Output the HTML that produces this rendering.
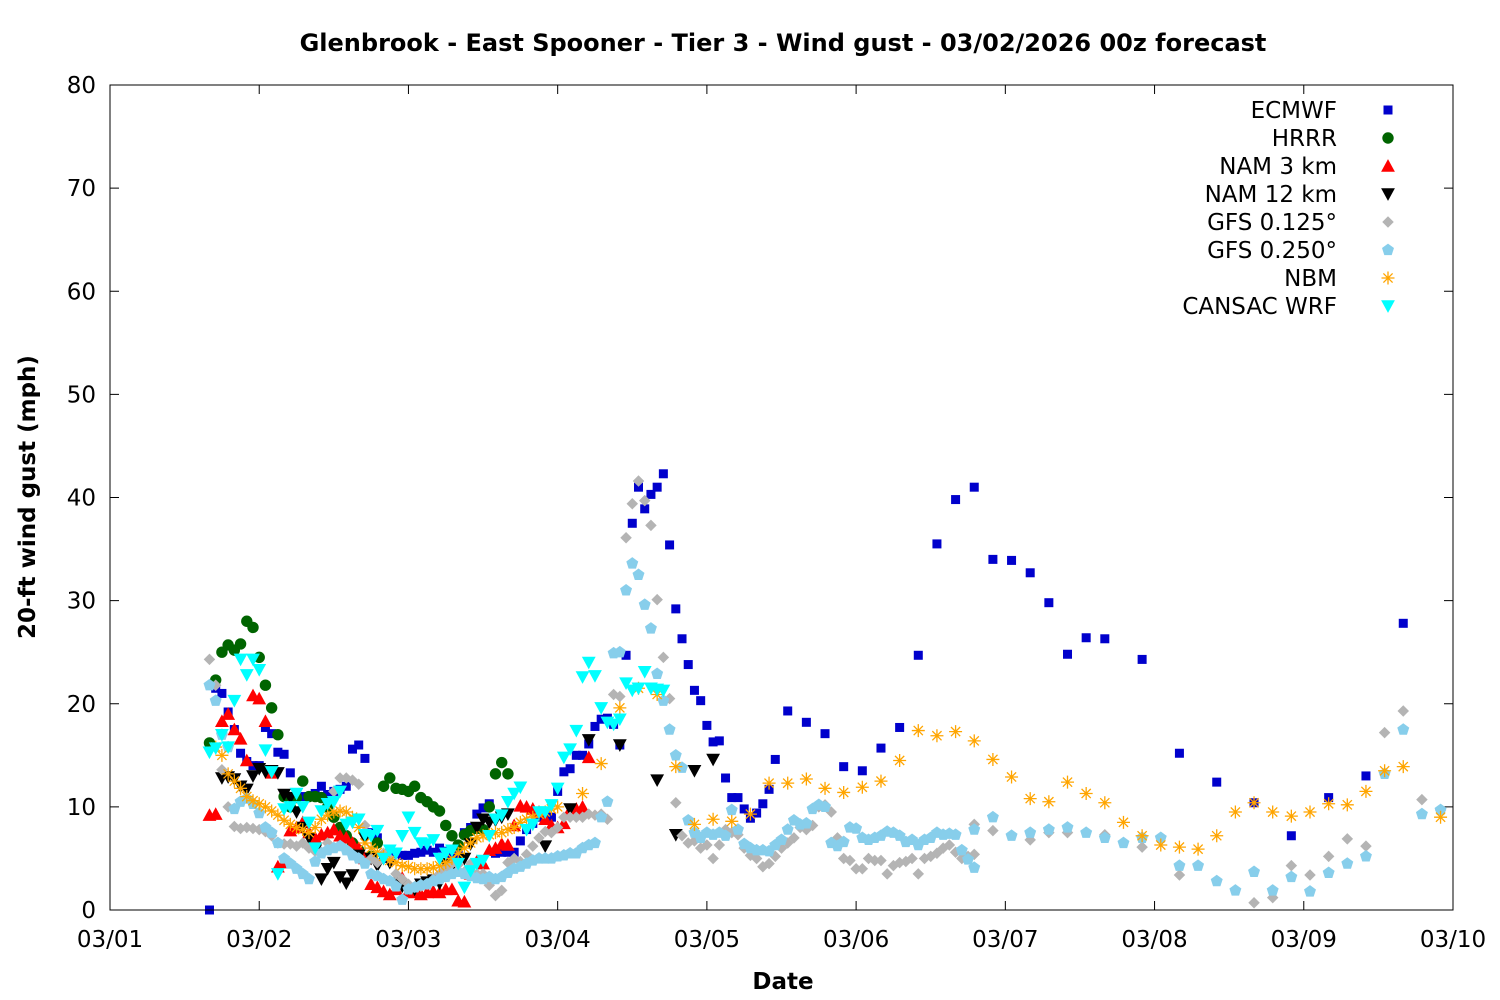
<!DOCTYPE html>
<html><head><meta charset="utf-8"><style>
html,body{margin:0;padding:0;background:#fff}
svg{display:block;font-family:"DejaVu Sans","Liberation Sans",sans-serif}
</style></head><body>
<svg id="chart" width="1500" height="1000" viewBox="0 0 1500 1000" xmlns="http://www.w3.org/2000/svg">
<rect x="0" y="0" width="1500" height="1000" fill="#fff"/>
<text x="783" y="51" text-anchor="middle" font-size="24" font-weight="bold">Glenbrook - East Spooner - Tier 3 - Wind gust - 03/02/2026 00z forecast</text>
<g id="ticks"></g>
<g id="marks"></g>
<rect x="110" y="85" width="1343" height="825" fill="none" stroke="#000" stroke-width="1"/>
<text x="783" y="989" text-anchor="middle" font-size="23" font-weight="bold">Date</text>
<text transform="translate(35,497) rotate(-90)" text-anchor="middle" font-size="23" font-weight="bold">20-ft wind gust (mph)</text>
<g id="legend"></g>
</svg>
<script>
const xTickLabels = ["03/01","03/02","03/03","03/04","03/05","03/06","03/07","03/08","03/09","03/10"];
const yTicks = [0,10,20,30,40,50,60,70,80];
const seriesNames = ["ECMWF","HRRR","NAM 3 km","NAM 12 km","GFS 0.125°","GFS 0.250°","NBM","CANSAC WRF"];

const ecmwfStart = 16;
const ecmwfHourly = [0,21.5,21,19.2,17.5,15.2,14.4,14,14,17.7,17.1,15.3,15.1,13.3,11,11,11,11.3,12,11.2,11.5,11.7,12,15.6,16,14.7,7.5,7,5,5.5,5.5,5.3,5.3,5.5,5.6,5.8,5.6,6,5.7,5.3,5.3,7.5,8,9.3,9.9,10.3,5.5,5.6,5.6,5.6,6.7,7.8,8.4,9,9.2,9,11.5,13.4,13.7,15,15,16.1,17.8,18.5,18.6,18,16,24.7,37.5,41,38.9,40.3,41,42.3,35.4,29.2,26.3,23.8,21.3,20.3,17.9,16.3,16.4,12.8,10.9,10.9,9.8,8.9,9.4,10.3,11.7,14.6];
const ecmwfLater = [[109,19.3],[112,18.2],[115,17.1],[118,13.9],[121,13.5],[124,15.7],[127,17.7],[130,24.7],[133,35.5],[136,39.8],[139,41],[142,34],[145,33.9],[148,32.7],[151,29.8],[154,24.8],[157,26.4],[160,26.3],[166,24.3],[172,15.2],[178,12.4],[184,10.4],[190,7.2],[196,10.9],[202,13],[208,27.8]];

const hrrrStart = 16;
const hrrrHourly = [16.2,22.3,25,25.7,25.2,25.8,28,27.4,24.5,21.8,19.6,17,11,10,10.9,12.5,11,11,10.9,10,9,8,7.2,6.5,5.8,5,5.2,6.5,12,12.8,11.8,11.7,11.5,12,10.9,10.5,10,9.6,8.2,7.2,6.3,7.3,7.7,7.9,7.8,10,13.2,14.3,13.2];

const nam3Start = 16;
const nam3Hourly = [9.2,9.3,18.3,19,17.5,16.6,14.5,20.8,20.5,18.3,13.3,4.2,4.6,7.7,8,8.5,7.5,7,7.3,7.5,7.8,7.2,7,6.5,6,5,2.5,2.2,1.8,1.5,2,3.1,1.8,1.7,1.5,1.7,1.8,1.7,2,2,0.9,0.8,3.5,4.7,4.5,5.8,6,6.4,6.3,8.2,10.1,10,9.8,9.5,8.8,8.2,8,8.4,9.7,9.8,10,14.8];

const nam12Start = 18;
const nam12Hourly = [12.8,12.9,12.7,12,11.7,13,13.7,13.4,13.5,13.3,11.2,10.9,9.5,8,7,5.8,3,4,4.6,3.2,2.6,3.4,5.3,7,5,4.3,5,4.6,2.6,2.3,2.1,2,2.5,2.7,2.9,2.6,4.5,4.2,4.5,5,6.4,8,8.8,8.5,8.7,9,9.3];
const nam12Later = [[70,6.2],[74,9.8],[77,16.5],[82,16],[88,12.6],[91,7.3],[94,13.5],[97,14.6]];

const gfs125Start = 16;
const gfs125Hourly = [24.3,21.8,13.6,10,8.1,7.9,8,7.9,7.8,7.6,7.2,6.5,6.4,6.4,6.2,6.5,6,5.7,5.6,6.5,11.5,12.8,12.8,12.6,12.2,8.2,5,4.6,5.5,5,3.5,3,2.5,2.2,2.3,2.5,3,3.5,4,4.5,4.4,3.7,4.5,3.5,3.5,2.4,1.4,1.9,4.6,5,4.7,5.4,6.2,7,7.6,7.5,8,9,9,9,9,9.3,9.2,9.3,8.8,20.9,20.7,36.1,39.4,41.6,39.7,37.3,30.1,24.5,20.5,10.4,7.2,6.5,6.7,6,6.3,5,6.3,7.8,7.5,7.3,6,5.3,5,4.2,4.5,5.2,6,6.5,7,8,7.8,8.2,10,10.2,9.5,7,5,4.8,4,4,5,4.8,4.8,3.5,4.3,4.6,4.7,5,3.5,5,5.2,5.5,6,6.3,5.6,5,5.2,5.4];
const gfs125Later = [[139,8.3],[142,7.7],[148,6.8],[151,7.5],[154,7.5],[160,7.3],[166,6.1],[172,3.4],[184,0.7],[187,1.2],[190,4.3],[193,3.4],[196,5.2],[199,6.9],[202,6.2],[205,17.2],[208,19.3],[211,10.7],[214,9.7]];

const gfs250Start = 16;
const gfs250Hourly = [21.8,20.3,17,15.8,9.8,10.5,10.8,10.3,9.4,8,7.5,6.5,5,4.5,4,3.5,3,4.7,5.5,5.8,6,6.2,5.8,5.3,5,4.5,3.5,3.3,3,2.8,2.3,1,2,2.2,2.4,2.5,2.8,3,3.2,3.5,3.7,3.5,3.3,3.1,3,3.2,3,3.2,3.6,4,4.2,4.5,4.8,5,5,5,5.2,5.3,5.5,5.5,6,6.3,6.5,9,10.5,24.9,25,31,33.6,32.5,29.6,27.3,22.9,20.3,17.5,15,13.8,8.7,7.5,7,7.5,7.3,7.5,7.2,9.7,7.8,6.4,6,5.8,5.8,5.7,6.3,6.8,7.8,8.7,8.3,8.4,9.8,10.2,10,6.5,6.2,6.6,8,7.9,7,6.8,7,7.2,7.6,7.5,7.2,6.6,6.8,6.3,6.8,7,7.5,7.3,7.4,7.3,5.8,4.9,4.1];
const gfs250Later = [[139,7.8],[142,9],[145,7.2],[148,7.5],[151,7.8],[154,8],[157,7.5],[160,7],[163,6.5],[166,7],[169,7],[172,4.3],[175,4.3],[178,2.8],[181,1.9],[184,3.7],[187,1.9],[190,3.2],[193,1.8],[196,3.6],[199,4.5],[202,5.2],[205,13.2],[208,17.5],[211,9.3],[214,9.7]];

const nbmStart = 17;
const nbmHourly = [15.8,15,13.2,12.5,11.8,11,10.6,10.3,10,9.6,9.2,8.7,8.3,8,7.8,7.5,8,8.8,9.2,9.5,9.6,9.5,9,8,6.5,6,5.6,5.2,4.8,4.6,4.3,4.2,4,4,4,4.1,4.3,4.6,5,5.5,6,6.5,7,7.2,7.3,7.5,7.5,7.8,8,8.5,8.8,9,9.3,9.5,9.8,10];
const nbmLater = [[76,11.3],[79,14.2],[82,19.6],[85,21.5],[88,20.9],[91,13.9],[94,8.3],[97,8.8],[100,8.6],[103,9.3],[106,12.3],[109,12.3],[112,12.7],[115,11.8],[118,11.4],[121,11.9],[124,12.5],[127,14.5],[130,17.4],[133,16.9],[136,17.3],[139,16.4],[142,14.6],[145,12.9],[148,10.8],[151,10.5],[154,12.4],[157,11.3],[160,10.4],[163,8.5],[166,7.2],[169,6.3],[172,6.1],[175,5.9],[178,7.2],[181,9.5],[184,10.4],[187,9.5],[190,9.1],[193,9.5],[196,10.3],[199,10.2],[202,11.5],[205,13.5],[208,13.9],[214,9]];

const cansacStart = 16;
const cansacHourly = [15.3,15.7,17,15.8,20.3,24.3,22.8,24.3,23.3,15.5,13.4,3.5,9.8,10,11.3,10,8.5,6,9.6,10.3,10.5,11.5,8.3,8.5,8.8,7.3,7.2,7.7,5,5.8,5.5,7.2,9,7.5,6.5,6.4,6.8,5,5.5,5.8,4.5,2.2,3.8,4.5,4.8,7.2,8.8,9.2,10.5,11.3,11.9,7.8,8.3,9.5,9.5,10.2,11.8,14.8,15.6,17.4,22.6,24,22.7,19.6,18.2,18,18.5,22,21.3,21.5,23.1,21.5,21.4,21.3];

const X0=110, X1=1453, Y0=910, Y1=85;
const xScale = h => X0 + (h/216)*(X1-X0);
const yScale = v => Y0 - (v/80)*(Y0-Y1);
const NS="http://www.w3.org/2000/svg";
function mk(tag, attrs, parent){const e=document.createElementNS(NS,tag);for(const k in attrs)e.setAttribute(k,attrs[k]);parent.appendChild(e);return e;}

const ticks=document.getElementById('ticks');
yTicks.forEach(v=>{
  const y=yScale(v);
  const l=mk('path',{d:`M${X0} ${y}h9M${X1} ${y}h-9`,stroke:'#000','stroke-width':1},ticks);
  
  
  const t=mk('text',{x:96,y:y+8,'text-anchor':'end','font-size':23},ticks);
  t.textContent=v;
  
  
});
xTickLabels.forEach((lab,i)=>{
  const x=xScale(i*24);
  const l=mk('path',{d:`M${x} ${Y0}v-9M${x} ${Y1}v9`,stroke:'#000','stroke-width':1},ticks);
  
  
  const t=mk('text',{x:x,y:947,'text-anchor':'middle','font-size':23},ticks);
  t.textContent=lab;
  
  
});

const colors=["#0000cc","#006400","#ff0000","#000000","#b4b4b4","#87ceeb","#ffa500","#00ffff"];
const S=1.15;
function marker(type,x,y,color,parent){
  let e;
  if(type===0) e=mk('rect',{x:x-4.5,y:y-4.5,width:9,height:9,fill:color},parent);
  else if(type===1) e=mk('circle',{cx:x,cy:y,r:5.7,fill:color},parent);
  else if(type===2) e=mk('path',{d:`M${x} ${y-6*S}L${x+6*S} ${y+5*S}L${x-6*S} ${y+5*S}Z`,fill:color},parent);
  else if(type===3||type===7) e=mk('path',{d:`M${x} ${y+6*S}L${x+6*S} ${y-5*S}L${x-6*S} ${y-5*S}Z`,fill:color},parent);
  else if(type===4) e=mk('path',{d:`M${x} ${y-5*S}L${x+5*S} ${y}L${x} ${y+5*S}L${x-5*S} ${y}Z`,fill:color},parent);
  else if(type===5) e=mk('path',{d:`M${x} ${y-5.5*S}L${x+5.2*S} ${y-1.7*S}L${x+3.2*S} ${y+4.5*S}L${x-3.2*S} ${y+4.5*S}L${x-5.2*S} ${y-1.7*S}Z`,fill:color},parent);
  else e=mk('path',{d:`M${x-6.5} ${y}h13M${x} ${y-6.5}v13M${x-4.6} ${y-4.6}l9.2 9.2M${x+4.6} ${y-4.6}l-9.2 9.2`,stroke:color,'stroke-width':1.3,fill:'none'},parent);
  return e;
}
function toPairs(start, hourly, later){
  const p=hourly.map((v,i)=>[start+i,v]);
  return later?p.concat(later):p;
}
const allSeries=[
  toPairs(ecmwfStart,ecmwfHourly,ecmwfLater),
  toPairs(hrrrStart,hrrrHourly),
  toPairs(nam3Start,nam3Hourly),
  toPairs(nam12Start,nam12Hourly,nam12Later),
  toPairs(gfs125Start,gfs125Hourly,gfs125Later),
  toPairs(gfs250Start,gfs250Hourly,gfs250Later),
  toPairs(nbmStart,nbmHourly,nbmLater),
  toPairs(cansacStart,cansacHourly)
];
const marks=document.getElementById('marks');
const legend=document.getElementById('legend');
allSeries.forEach((pts,si)=>{
  const g=mk('g',{},marks);
  
  
  pts.forEach(([h,v])=>{
    const m=marker(si,xScale(h),yScale(v),colors[si],g);
    
    
  });
  const ly=110+si*28;
  const t=mk('text',{x:1337,y:ly+8,'text-anchor':'end','font-size':23},legend);
  t.textContent=seriesNames[si];
  
  
  const lm=marker(si,1388,ly,colors[si],legend);
  
  
});
</script>
</body></html>
